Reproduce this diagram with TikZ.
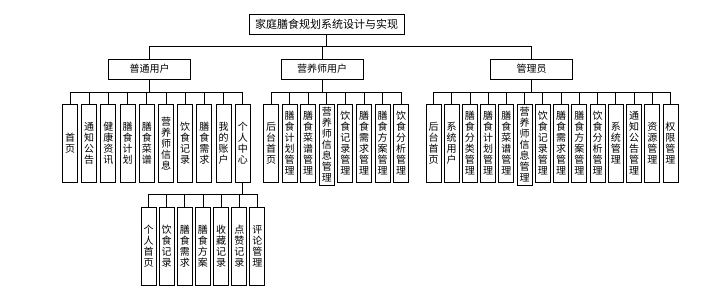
\documentclass[tikz,border=0pt]{standalone}
\usepackage{fontspec}
\setmainfont{Noto Sans CJK SC}
\tikzset{
  titlebox/.style={draw=black, line width=0.9pt, minimum width=155pt, minimum height=20pt, inner sep=1pt, font=\fontsize{11}{12}\selectfont},
  rolebox/.style={draw=black, line width=0.9pt, minimum width=82pt, minimum height=20pt, inner sep=1pt, font=\fontsize{10}{11}\selectfont},
  leafbox/.style={draw=black, line width=0.9pt, anchor=north, minimum width=15pt, minimum height=78pt, inner xsep=0pt, inner ysep=3pt, align=center, font=\fontsize{10}{11}\selectfont},
  link/.style={draw=black, line width=0.9pt}
}

\begin{document}
\begin{tikzpicture}[x=1pt, y=1pt]
  \useasboundingbox[fill=white] (0,0) rectangle (702,-295);
  % top levels
  \node[titlebox] (root) at (326.5,-24) {家庭膳食规划系统设计与实现};
  \node[rolebox] (user) at (149.5,-69) {普通用户};
  \node[rolebox] (dietitian) at (322,-69) {营养师用户};
  \node[rolebox] (admin) at (531.5,-69) {管理员};
  \foreach \role in {user,dietitian,admin}
    \draw[link] (root.south) -- ++(0,-12) -| (\role.north);

  % normal user
  \foreach \txt [count=\i] in {{首\\页},{通\\知\\公\\告},{健\\康\\资\\讯},{膳\\食\\计\\划},{膳\\食\\菜\\谱},
      {营\\养\\师\\信\\息},{饮\\食\\记\\录},{膳\\食\\需\\求},{我\\的\\账\\户},{个\\人\\中\\心}} {
    \node[leafbox] (u\i) at ({70+(\i-1)*19.2},-104) {\txt};
    \draw[link] (user.south) -- ++(0,-13) -| (u\i.north);
  }

  % dietitian
  \foreach \txt [count=\i] in {{后\\台\\首\\页},{膳\\食\\计\\划\\管\\理},{膳\\食\\菜\\谱\\管\\理},
      {营\\养\\师\\信\\息\\管\\理},{饮\\食\\记\\录\\管\\理},{膳\\食\\需\\求\\管\\理},
      {膳\\食\\方\\案\\管\\理},{饮\\食\\分\\析\\管\\理}} {
    \node[leafbox] (d\i) at ({271+(\i-1)*18.6},-104) {\txt};
    \draw[link] (dietitian.south) -- ++(0,-13) -| (d\i.north);
  }

  % admin
  \foreach \txt [count=\i] in {{后\\台\\首\\页},{系\\统\\用\\户},{膳\\食\\分\\类\\管\\理},{膳\\食\\计\\划\\管\\理},
      {膳\\食\\菜\\谱\\管\\理},{营\\养\\师\\信\\息\\管\\理},{饮\\食\\记\\录\\管\\理},{膳\\食\\需\\求\\管\\理},
      {膳\\食\\方\\案\\管\\理},{饮\\食\\分\\析\\管\\理},{系\\统\\管\\理},{通\\知\\公\\告\\管\\理},
      {资\\源\\管\\理},{权\\限\\管\\理}} {
    \node[leafbox] (a\i) at ({433.5+(\i-1)*18.23},-104) {\txt};
    \draw[link] (admin.south) -- ++(0,-13) -| (a\i.north);
  }

  % personal center
  \foreach \txt [count=\i] in {{个\\人\\首\\页},{饮\\食\\记\\录},{膳\\食\\需\\求},{膳\\食\\方\\案},
      {收\\藏\\记\\录},{点\\赞\\记\\录},{评\\论\\管\\理}} {
    \node[leafbox] (c\i) at ({148.5+(\i-1)*18.15},-207) {\txt};
    \draw[link] (u10.south) -- ++(0,-12) -| (c\i.north);
  }
\end{tikzpicture}
\end{document}
